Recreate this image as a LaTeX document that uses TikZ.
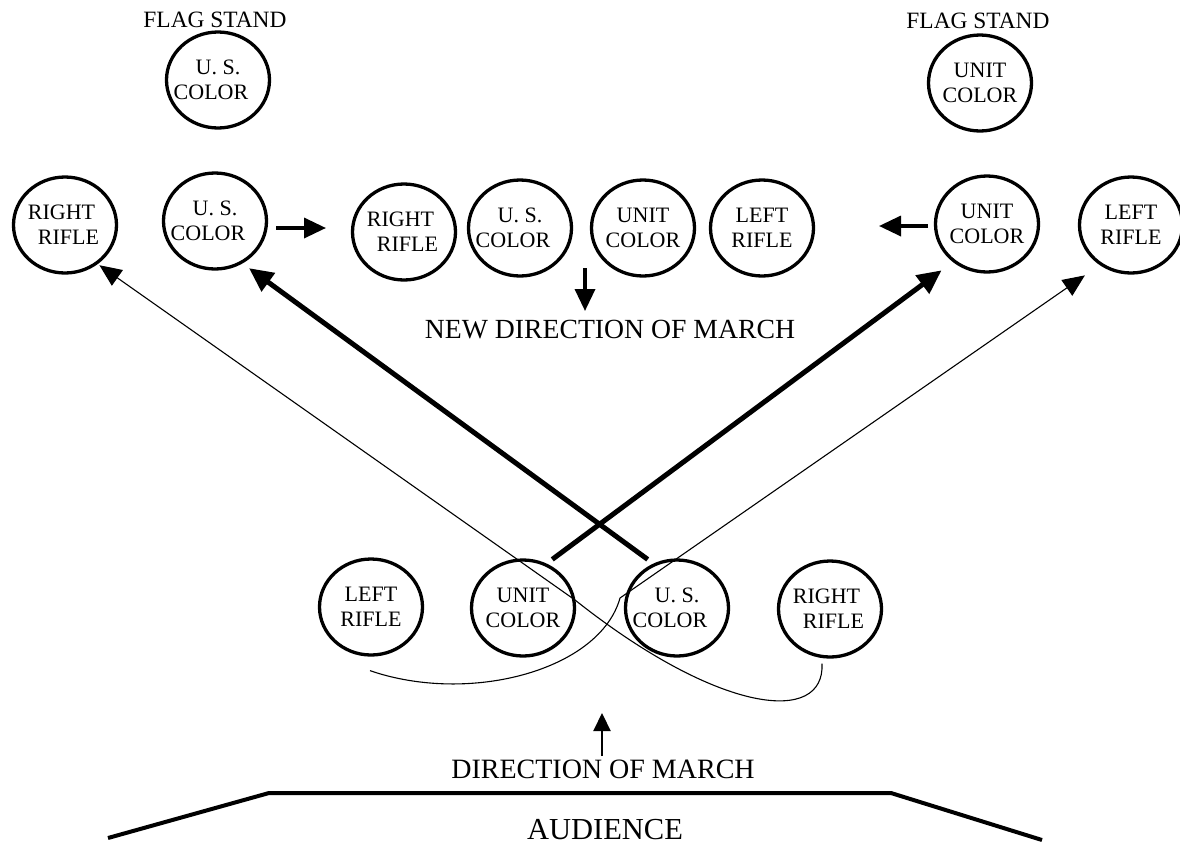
\documentclass[tikz,border=0pt]{standalone}
\usepackage{fontspec}
\setmainfont{Liberation Serif}
\usetikzlibrary{shapes.geometric,arrows.meta,calc}
\begin{document}
\begin{tikzpicture}[x=1pt,y=-1pt,
  soldier/.style={draw, ellipse, line width=3.3pt, minimum width=103pt, minimum height=96pt, inner sep=0pt},
  ctext/.style={align=center, font=\fontsize{22}{25}\selectfont, inner sep=0pt},
  thickarrow/.style={line width=5pt, -{Triangle[length=24pt,width=22pt]}},
  thinarrow/.style={line width=1.1pt, -{Triangle[length=22pt,width=19pt]}},
  rowarrow/.style={line width=3.5pt, -{Triangle[length=22pt,width=20pt]}},
  uparrow/.style={line width=2.2pt, -{Triangle[length=18pt,width=17pt]}},
  lbl/.style={anchor=base, inner sep=0pt},
]
\path[use as bounding box] (0,0) rectangle (1180,844);
\newcommand{\usc}{U. S.\\COLOR\hspace*{14pt}}
\newcommand{\unc}{UNIT\\COLOR}
\newcommand{\rrf}{RIGHT\hspace*{7pt}\\\hspace*{7pt}RIFLE}
\newcommand{\lrf}{LEFT\\RIFLE}

% flag stand
\node[lbl, font=\fontsize{23.4}{26}\selectfont] (fs1) at (215,27) {FLAG STAND};
\node[lbl, font=\fontsize{23.4}{26}\selectfont] (fs2) at (978,28) {FLAG STAND};
\node[soldier, label={[ctext]center:\usc}] (fsL) at (218,80) {};
\node[soldier, label={[ctext]center:\unc}] (fsR) at (980,83) {};

% second row
\node[soldier, label={[ctext]center:\rrf}] (rrL) at (65,225) {};
\node[soldier, label={[ctext]center:\usc}] (usL) at (215,221) {};
\node[soldier, label={[ctext]center:\rrf}] (mRR) at (404,232) {};
\node[soldier, label={[ctext]center:\usc}] (mUS) at (520,228) {};
\node[soldier, label={[ctext]center:\unc}] (mUC) at (643,228) {};
\node[soldier, label={[ctext]center:\lrf}] (mLR) at (762,228) {};
\node[soldier, label={[ctext]center:\unc}] (uR) at (987,224) {};
\node[soldier, label={[ctext]center:\lrf}] (lrR) at (1131,225) {};

\node[lbl, font=\fontsize{27.7}{30}\selectfont] (ndm) at (610,338) {NEW DIRECTION OF MARCH};

% bottom row
\node[soldier, label={[ctext]center:\lrf}] (bLR) at (371,607) {};
\node[soldier, label={[ctext]center:\unc}] (bUC) at (523,608) {};
\node[soldier, label={[ctext]center:\usc}] (bUS) at (677,608) {};
\node[soldier, label={[ctext]center:\rrf}] (bRR) at (830,609) {};

\node[lbl, font=\fontsize{28}{30}\selectfont] (dm) at (603,778) {DIRECTION OF MARCH};
\node[lbl, font=\fontsize{30.5}{33}\selectfont] (aud) at (605,839) {AUDIENCE};

% free arrow ends
\coordinate (r1s) at (276,228);
\coordinate (r1e) at (326,228);
\coordinate (r2s) at (928,226);
\coordinate (r2e) at (879,226);
\coordinate (dns) at (585,268);
\coordinate (dne) at (585,311);
\coordinate (ups) at (602,756);
\coordinate (upe) at (602,713);

\draw[rowarrow] (r1s) -- (r1e);
\draw[rowarrow] (r2s) -- (r2e);
\draw[rowarrow] (dns) -- (dne);
\draw[uparrow] (ups) -- (upe);

% thick colour paths
\draw[thickarrow, shorten <=7pt, shorten >=14pt] (bUC.62) -- (uR.-132);
\draw[thickarrow, shorten <=7pt, shorten >=8pt] (bUS.118) -- (usL.-57);

% thin rifle paths
\draw[thinarrow, shorten >=18pt] ([xshift=-1pt,yshift=-14pt]bLR.south)
  .. controls (470,705) and (600,670) .. (620,598) -- (lrR.-128);
\draw[thinarrow, shorten >=2pt] ([xshift=-8pt,yshift=-5pt]bRR.south)
  .. controls (825,725) and (720,715) .. (575,600) -- (rrL.-50);

% audience stand
\coordinate (a1) at (108,838);
\coordinate (a2) at (269,793);
\coordinate (a3) at (891,793);
\coordinate (a4) at (1042,840);
\draw[line width=4pt, line join=miter] (a1) -- (a2) -- (a3) -- (a4);
\end{tikzpicture}
\end{document}
